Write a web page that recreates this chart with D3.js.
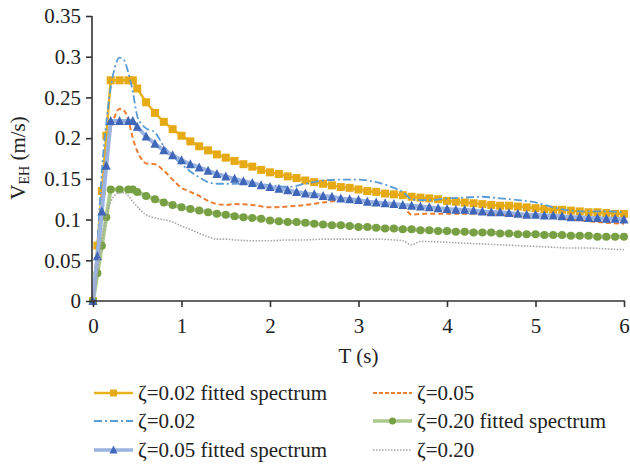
<!DOCTYPE html>
<html>
<head>
<meta charset="utf-8">
<script src="https://cdn.jsdelivr.net/npm/d3@7"></script>
<style>
  html, body { margin: 0; padding: 0; background: #fff; }
  svg text { font-family: "Liberation Serif", "Times New Roman", serif; fill: #222; }
</style>
</head>
<body>
<svg id="chart" width="630" height="464"></svg>
<script>
// ---- data ----
const fitT = [0,0.05,0.1,0.15,0.2,0.3,0.4,0.45,0.5,0.6,0.7,0.8,0.9,1.0,1.1,1.2,1.3,1.4,1.5,1.6,1.7,1.8,1.9,2.0,2.1,2.2,2.3,2.4,2.5,2.6,2.7,2.8,2.9,3.0,3.1,3.2,3.3,3.4,3.5,3.6,3.7,3.8,3.9,4.0,4.1,4.2,4.3,4.4,4.5,4.6,4.7,4.8,4.9,5.0,5.1,5.2,5.3,5.4,5.5,5.6,5.7,5.8,5.9,6.0];
const fit002 = [0,0.068,0.135,0.203,0.271,0.271,0.271,0.271,0.261,0.244,0.231,0.220,0.211,0.203,0.196,0.190,0.185,0.180,0.176,0.172,0.168,0.165,0.161,0.158,0.156,0.153,0.151,0.148,0.146,0.144,0.142,0.140,0.139,0.137,0.135,0.134,0.132,0.131,0.130,0.128,0.127,0.126,0.125,0.123,0.122,0.121,0.120,0.119,0.118,0.117,0.117,0.116,0.115,0.114,0.113,0.112,0.112,0.111,0.110,0.109,0.109,0.108,0.107,0.107];
const fit005 = [0,0.055,0.110,0.166,0.221,0.221,0.221,0.221,0.214,0.202,0.193,0.185,0.179,0.173,0.168,0.164,0.160,0.156,0.153,0.150,0.147,0.145,0.142,0.140,0.138,0.136,0.134,0.132,0.131,0.129,0.128,0.126,0.125,0.124,0.122,0.121,0.120,0.119,0.118,0.117,0.116,0.115,0.114,0.113,0.112,0.112,0.111,0.110,0.109,0.109,0.108,0.107,0.106,0.106,0.105,0.105,0.104,0.103,0.103,0.102,0.102,0.101,0.101,0.100];
const fit020 = [0,0.034,0.068,0.103,0.137,0.137,0.137,0.137,0.134,0.129,0.125,0.121,0.118,0.115,0.113,0.111,0.109,0.107,0.106,0.104,0.103,0.102,0.101,0.099,0.098,0.097,0.097,0.096,0.095,0.094,0.093,0.093,0.092,0.091,0.091,0.090,0.089,0.089,0.088,0.088,0.087,0.087,0.086,0.086,0.085,0.085,0.084,0.084,0.084,0.083,0.083,0.082,0.082,0.082,0.081,0.081,0.081,0.080,0.080,0.080,0.079,0.079,0.079,0.079];

const rawT = [0,0.05,0.1,0.15,0.2,0.25,0.3,0.35,0.4,0.45,0.5,0.55,0.6,0.7,0.8,0.9,1.0,1.1,1.2,1.3,1.4,1.5,1.6,1.8,2.0,2.2,2.4,2.6,2.8,3.0,3.2,3.4,3.5,3.6,3.7,3.8,4.0,4.2,4.4,4.6,4.8,5.0,5.2,5.4,5.6,5.8,6.0];
const raw002 = [0,0.07,0.16,0.218,0.262,0.288,0.299,0.296,0.280,0.257,0.227,0.217,0.212,0.207,0.190,0.178,0.168,0.159,0.152,0.146,0.144,0.144,0.144,0.1445,0.142,0.140,0.144,0.148,0.149,0.149,0.146,0.139,0.134,0.125,0.124,0.124,0.126,0.127,0.128,0.126,0.124,0.121,0.115,0.111,0.110,0.110,0.109];
const raw005 = [0,0.06,0.12,0.180,0.210,0.228,0.236,0.234,0.222,0.200,0.184,0.174,0.169,0.168,0.160,0.149,0.139,0.134,0.129,0.123,0.119,0.118,0.119,0.118,0.115,0.116,0.118,0.121,0.123,0.123,0.121,0.118,0.116,0.106,0.107,0.107,0.107,0.107,0.107,0.106,0.105,0.104,0.102,0.100,0.098,0.096,0.095];
const raw020 = [0,0.035,0.075,0.105,0.122,0.130,0.133,0.133,0.129,0.122,0.116,0.110,0.106,0.102,0.100,0.097,0.092,0.088,0.083,0.079,0.076,0.076,0.075,0.074,0.074,0.075,0.075,0.076,0.076,0.076,0.076,0.075,0.074,0.069,0.073,0.073,0.072,0.071,0.070,0.069,0.068,0.067,0.066,0.065,0.065,0.064,0.063];

const xTicks = [0,1,2,3,4,5,6];
const xTickLabels = ["0","1","2","3","4","5","6"];
const yTicks = [0,0.05,0.1,0.15,0.2,0.25,0.3,0.35];
const yTickLabels = ["0","0.05","0.1","0.15","0.2","0.25","0.3","0.35"];
const legendLabels = ["\u03B6=0.02 fitted spectrum","\u03B6=0.02","\u03B6=0.05 fitted spectrum","\u03B6=0.05","\u03B6=0.20 fitted spectrum","\u03B6=0.20"];

// ---- drawing ----
const FONT = '"Liberation Serif", "Times New Roman", serif';
const svg = d3.select("#chart");
const x = d3.scaleLinear().domain([0,6]).range([93,624]);
const y = d3.scaleLinear().domain([0,0.35]).range([301,16]);
const FS = 21;

const C = {
  yellow: "#E6AA14", yellowLine: "#E8B21E",
  blueDark: "#3F66B8", blueLine: "#9BB3E0",
  green: "#76A043", greenLine: "#ABC98C",
  orange: "#ED7D31", blueDash: "#5B9BD5", gray: "#A6A6A6"
};

const lineLin = (T) => d3.line().x((d,i)=>x(T[i])).y(d=>y(d));
const lineSmooth = (T) => d3.line().x((d,i)=>x(T[i])).y(d=>y(d)).curve(d3.curveMonotoneX);

const plot = svg.append("g");

function drawFitted(vals, lineColor, lineW, markerFn) {
  plot.append("path").datum(vals).attr("d", lineLin(fitT)).attr("fill","none")
    .attr("stroke", lineColor).attr("stroke-width", lineW).attr("stroke-linejoin","round");
  const g = plot.append("g");
  vals.forEach((v,i)=> markerFn(g, x(fitT[i]), y(v)));
}
function drawRaw(vals, color, width, dash) {
  plot.append("path").datum(vals).attr("d", lineSmooth(rawT)).attr("fill","none")
    .attr("stroke", color).attr("stroke-width", width).attr("stroke-dasharray", dash);
}
const square = (g,cx,cy,s=8)=> g.append("rect").attr("x",cx-s/2).attr("y",cy-s/2).attr("width",s).attr("height",s).attr("fill",C.yellow);
const tri = (g,cx,cy,s=9)=> g.append("path").attr("d",`M${cx},${cy-s/2-0.5}L${cx+s/2},${cy+s/2-0.5}L${cx-s/2},${cy+s/2-0.5}Z`).attr("fill",C.blueDark);
const circ = (g,cx,cy,r=4)=> g.append("circle").attr("cx",cx).attr("cy",cy).attr("r",r).attr("fill",C.green);

drawFitted(fit002, C.yellowLine, 2.5, (g,a,b)=>square(g,a,b));
drawRaw(raw005, C.orange, 2, "5,3");
drawRaw(raw002, C.blueDash, 1.8, "8,3,2,3");
drawFitted(fit020, C.greenLine, 4, (g,a,b)=>circ(g,a,b));
drawFitted(fit005, C.blueLine, 4, (g,a,b)=>tri(g,a,b));
drawRaw(raw020, C.gray, 1.6, "1.5,1.5");

// axes
const yAxis = svg.append("g").attr("transform","translate(92,0)")
  .call(d3.axisLeft(y).tickValues(yTicks).tickFormat((d,i)=>yTickLabels[i]).tickSize(6).tickPadding(5).tickSizeOuter(0));
const xAxis = svg.append("g").attr("transform",`translate(0,${y(0)})`)
  .call(d3.axisBottom(x).tickValues(xTicks).tickFormat((d,i)=>xTickLabels[i]).tickSize(6).tickPadding(11).tickSizeOuter(0));
[yAxis, xAxis].forEach(a=>{
  a.attr("font-family", FONT);
  a.select(".domain").attr("stroke","#333").attr("stroke-width",1.6);
  a.selectAll(".tick line").attr("stroke","#333").attr("stroke-width",1.6);
  a.selectAll(".tick text").attr("font-size",FS).attr("font-family",FONT).attr("fill","#222");
});
xAxis.select(".domain").attr("d", `M92,0H625`);
yAxis.select(".domain").attr("d", `M0,${y(0.35)}V${y(0)}`);

// axis titles
svg.append("text").attr("x", x(3)).attr("y", 363).attr("text-anchor","middle").attr("font-size",FS).attr("font-family",FONT).text("T (s)");
const yt = svg.append("text").attr("transform","translate(25,158) rotate(-90)").attr("text-anchor","middle").attr("font-size",FS).attr("font-family",FONT);
yt.append("tspan").text("V");
yt.append("tspan").attr("font-size",14).attr("dy",4).text("EH");
yt.append("tspan").attr("dy",-4).text(" (m/s)");

// legend
const legendItems = [
  {label: legendLabels[0], col:0, row:0, line:C.yellowLine, lw:2.5, mk:(g,a,b)=>square(g,a,b,7)},
  {label: legendLabels[1], col:0, row:1, line:C.blueDash, lw:1.8, dash:"8,3,2,3"},
  {label: legendLabels[2], col:0, row:2, line:C.blueLine, lw:3.5, mk:(g,a,b)=>tri(g,a,b,8)},
  {label: legendLabels[3], col:1, row:0, line:C.orange, lw:2, dash:"4,2"},
  {label: legendLabels[4], col:1, row:1, line:C.greenLine, lw:3.5, mk:(g,a,b)=>circ(g,a,b,3.5)},
  {label: legendLabels[5], col:1, row:2, line:C.gray, lw:1.5, dash:"1.5,1.5"}
];
const colX = [94, 373], lineLen = 39, rowY = [393, 421, 450];
const lg = svg.append("g");
legendItems.forEach(it=>{
  const x0 = colX[it.col], yy = rowY[it.row];
  lg.append("line").attr("x1",x0).attr("x2",x0+lineLen).attr("y1",yy).attr("y2",yy)
    .attr("stroke",it.line).attr("stroke-width",it.lw).attr("stroke-dasharray",it.dash||null);
  if (it.mk) it.mk(lg, x0+lineLen/2, yy);
  lg.append("text").attr("x", x0+lineLen+5).attr("y", yy).attr("dy","0.33em").attr("font-size",FS).attr("font-family",FONT).text(it.label);
});
</script>
</body>
</html>
